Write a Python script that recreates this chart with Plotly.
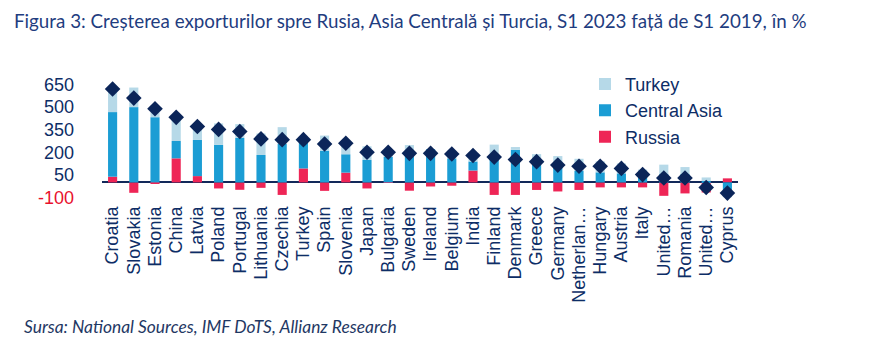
import plotly.graph_objects as go

categories = ["Croatia", "Slovakia", "Estonia", "China", "Latvia", "Poland", "Portugal",
              "Lithuania", "Czechia", "Turkey", "Spain", "Slovenia", "Japan", "Bulgaria",
              "Sweden", "Ireland", "Belgium", "India", "Finland", "Denmark", "Greece",
              "Germany", "Netherlands", "Hungary", "Austria", "Italy", "United States",
              "Romania", "United Kingdom", "Cyprus"]
tick_labels = ["Croatia", "Slovakia", "Estonia", "China", "Latvia", "Poland", "Portugal",
               "Lithuania", "Czechia", "Turkey", "Spain", "Slovenia", "Japan", "Bulgaria",
               "Sweden", "Ireland", "Belgium", "India", "Finland", "Denmark", "Greece",
               "Germany", "Netherlan…", "Hungary", "Austria", "Italy", "United…",
               "Romania", "United…", "Cyprus"]

russia = [38, -69, -9, 160, 42, -40, -49, -36, -83, 93, -56, 65, -40, -3, -55, -27, -22, 79,
          -83, -83, -50, -60, -50, -33, -33, -33, -89, -73, -67, 27]
central_asia = [429, 500, 433, 115, 240, 249, 295, 182, 255, 174, 211, 122, 149, 170, 175,
                220, 160, 60, 168, 217, 155, 100, 78, 67, 60, 35, 55, 55, 11, -55]
turkey = [153, 130, 65, 160, 90, 143, 92, 143, 112, 17, 100, 73, 91, 33, 73, 0, 51, 40, 83,
          18, 33, 75, 79, 73, 66, 50, 63, 47, 22, -43]
total = [620, 560, 489, 432, 371, 352, 338, 289, 284, 284, 255, 260, 200, 200, 193, 193, 189,
         179, 168, 152, 138, 115, 107, 107, 93, 52, 29, 29, -34, -71]

y_ticks = [650, 500, 350, 200, 50, -100]
y_ticktext = ["650", "500", "350", "200", "50", '<span style="color:#e8112d">-100</span>']

NAVY = "#0d2d66"
AXIS_FONT = "Liberation Sans, Arial, sans-serif"

fig = go.Figure()
fig.add_trace(go.Bar(x=categories, y=russia, name="Russia", marker_color="#ee2556",
                     marker_line_width=0))
fig.add_trace(go.Bar(x=categories, y=central_asia, name="Central Asia", marker_color="#1b9dd4",
                     marker_line_width=0))
fig.add_trace(go.Bar(x=categories, y=turkey, name="Turkey", marker_color="#b6d9e8",
                     marker_line_width=0))
fig.add_trace(go.Scatter(x=categories, y=total, mode="markers", showlegend=False,
                         marker=dict(symbol="diamond", size=12, color="#0b2559",
                                     line=dict(width=0))))

fig.update_layout(
    width=882, height=344,
    margin=dict(l=102, r=144, t=77, b=142),
    barmode="relative", bargap=0.57,
    plot_bgcolor="white", paper_bgcolor="white",
    showlegend=True,
    legend=dict(x=(585 - 102) / 636, y=1.09, xanchor="left", yanchor="top",
                traceorder="reversed",
                font=dict(family=AXIS_FONT, size=18, color=NAVY),
                bgcolor="rgba(0,0,0,0)", itemwidth=30, tracegroupgap=0),
    xaxis=dict(tickmode="array", tickvals=categories, ticktext=tick_labels,
               range=[-0.5, len(categories) - 0.5], autorange=False,
               tickangle=-90, tickfont=dict(family=AXIS_FONT, size=18, color=NAVY),
               showgrid=False, showline=False, ticks="", automargin=False),
    yaxis=dict(range=[-130, 700], autorange=False, tickmode="array", tickvals=y_ticks,
               ticktext=y_ticktext,
               tickfont=dict(family=AXIS_FONT, size=18, color=NAVY),
               showgrid=False, zeroline=True, zerolinecolor="#12295a", zerolinewidth=2,
               ticks="", ticklabelstandoff=27, showline=False, automargin=False),
    annotations=[
        dict(text="Figura 3: Creșterea exporturilor spre Rusia, Asia Centrală și Turcia, S1 2023 față de S1 2019, în %",
             xref="paper", yref="paper", x=(12 - 102) / 636, y=1 + (77 - 20) / 125,
             xanchor="left", yanchor="middle", showarrow=False,
             font=dict(family="Lato, sans-serif", size=18.8, color="#1f3d80")),
        dict(text="<i>Sursa: National Sources, IMF DoTS, Allianz Research</i>",
             xref="paper", yref="paper", x=(22 - 102) / 636, y=(202 - 326) / 125,
             xanchor="left", yanchor="middle", showarrow=False,
             font=dict(family="Lato, sans-serif", size=17.4, color="#1f3864")),
    ],
)

fig.write_html("out.html")
